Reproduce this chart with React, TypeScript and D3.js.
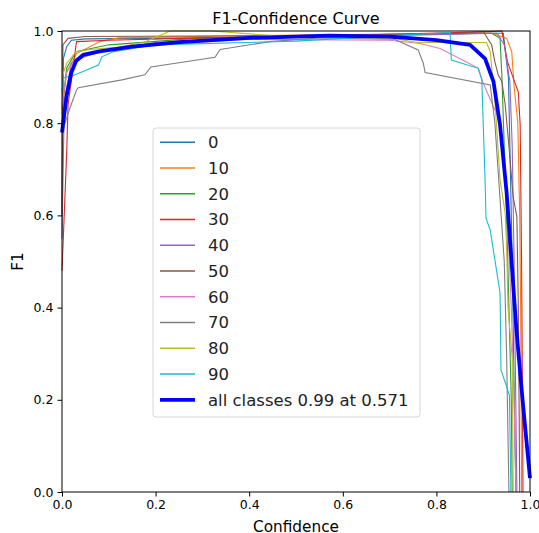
import React, { useEffect, useRef } from "react";
import * as d3 from "d3";

type Pt = [number, number];

const classNames = ["0", "10", "20", "30", "40", "50", "60", "70", "80", "90"];
const classColors = ["#1f77b4", "#ff7f0e", "#2ca02c", "#d62728", "#9467bd", "#8c564b", "#e377c2", "#7f7f7f", "#bcbd22", "#17becf"];

const class0: Pt[] = [[0, 0.6], [0.003, 0.94], [0.01, 0.966], [0.02, 0.98], [0.05, 0.983], [0.3, 0.985], [0.6, 0.99], [0.9, 0.995], [0.943, 0.995], [0.948, 0.95], [0.954, 0.898], [0.958, 0.7], [0.962, 0.5], [0.965, 0.3], [0.968, 0.1], [0.97, 0]];
const class10: Pt[] = [[0, 0.82], [0.01, 0.912], [0.031, 0.951], [0.081, 0.977], [0.12, 0.985], [0.4, 0.99], [0.88, 0.995], [0.92, 0.995], [0.95, 0.984], [0.961, 0.955], [0.966, 0.88], [0.974, 0.8], [0.978, 0.6], [0.98, 0.4], [0.981, 0.2], [0.982, 0]];
const class20: Pt[] = [[0, 0.83], [0.01, 0.92], [0.03, 0.955], [0.1, 0.97], [0.3, 0.985], [0.6, 0.99], [0.918, 0.995], [0.936, 0.984], [0.94, 0.9], [0.945, 0.75], [0.95, 0.6], [0.955, 0.4], [0.96, 0.2], [0.962, 0]];
const class30: Pt[] = [[0, 0.48], [0.01, 0.735], [0.013, 0.84], [0.031, 0.977], [0.1, 0.98], [0.3, 0.985], [0.6, 0.99], [0.9, 0.998], [0.94, 1.0], [0.952, 0.933], [0.968, 0.887], [0.975, 0.868], [0.979, 0.796], [0.982, 0.5], [0.984, 0.2], [0.985, 0]];
const class40: Pt[] = [[0, 0.55], [0.005, 0.85], [0.02, 0.93], [0.05, 0.945], [0.1, 0.96], [0.2, 0.975], [0.4, 0.985], [0.7, 0.99], [0.93, 0.995], [0.945, 0.97], [0.957, 0.89], [0.962, 0.75], [0.966, 0.5], [0.969, 0.25], [0.972, 0]];
const class50: Pt[] = [[0, 0.6], [0.002, 0.97], [0.013, 0.984], [0.05, 0.988], [0.5, 0.99], [0.85, 0.995], [0.9, 0.999], [0.918, 0.97], [0.925, 0.933], [0.932, 0.905], [0.94, 0.89], [0.947, 0.84], [0.955, 0.75], [0.964, 0.64], [0.972, 0.597], [0.975, 0.4], [0.977, 0.15], [0.978, 0]];
const class60: Pt[] = [[0, 0.84], [0.01, 0.91], [0.03, 0.94], [0.08, 0.955], [0.2, 0.97], [0.4, 0.982], [0.7, 0.98], [0.765, 0.973], [0.808, 0.962], [0.89, 0.919], [0.9, 0.887], [0.911, 0.861], [0.936, 0.803], [0.95, 0.65], [0.96, 0.4], [0.966, 0.2], [0.97, 0]];
const class70: Pt[] = [[0, 0.78], [0.003, 0.79], [0.017, 0.833], [0.031, 0.872], [0.035, 0.877], [0.128, 0.894], [0.177, 0.905], [0.19, 0.922], [0.327, 0.943], [0.338, 0.96], [0.444, 0.977], [0.55, 0.985], [0.71, 0.982], [0.761, 0.959], [0.772, 0.93], [0.776, 0.91], [0.915, 0.883], [0.925, 0.8], [0.935, 0.65], [0.945, 0.5], [0.95, 0.3], [0.955, 0]];
const class80: Pt[] = [[0, 0.9], [0.01, 0.93], [0.03, 0.955], [0.06, 0.96], [0.12, 0.965], [0.174, 0.975], [0.231, 1.0], [0.32, 1.0], [0.45, 0.99], [0.71, 0.984], [0.758, 0.975], [0.907, 0.975], [0.915, 0.955], [0.925, 0.85], [0.936, 0.677], [0.947, 0.605], [0.95, 0.532], [0.953, 0.4], [0.962, 0.29], [0.964, 0.02], [0.964, 0]];
const class90: Pt[] = [[0, 0.87], [0.003, 0.898], [0.028, 0.905], [0.078, 0.926], [0.085, 0.944], [0.109, 0.955], [0.2, 0.97], [0.5, 0.978], [0.7, 0.99], [0.8, 0.995], [0.829, 0.997], [0.832, 0.937], [0.889, 0.919], [0.897, 0.894], [0.904, 0.677], [0.906, 0.594], [0.915, 0.568], [0.936, 0.432], [0.938, 0.265], [0.956, 0.21], [0.959, 0.02], [0.959, 0]];
const allClasses: Pt[] = [[0, 0.78], [0.01, 0.86], [0.02, 0.91], [0.03, 0.935], [0.045, 0.948], [0.08, 0.956], [0.15, 0.966], [0.25, 0.976], [0.4, 0.985], [0.571, 0.99], [0.7, 0.988], [0.8, 0.98], [0.872, 0.97], [0.904, 0.94], [0.922, 0.89], [0.936, 0.796], [0.95, 0.65], [0.962, 0.48], [0.971, 0.351], [0.985, 0.19], [1.0, 0.03]];

const classSeries = [class0, class10, class20, class30, class40, class50, class60, class70, class80, class90];
const allLabel = "all classes 0.99 at 0.571";
const ticks = [0, 0.2, 0.4, 0.6, 0.8, 1.0];

const W = 539;
const H = 533;
const margin = { left: 62, right: 9, top: 31, bottom: 41 };
const font = "DejaVu Sans, sans-serif";

const App = () => {
  const svgRef = useRef<SVGSVGElement>(null);

  useEffect(() => {
    const svg = d3.select(svgRef.current);
    svg.selectAll("*").remove();

    const x = d3.scaleLinear().domain([0, 1]).range([margin.left, W - margin.right]);
    const y = d3.scaleLinear().domain([0, 1]).range([H - margin.bottom, margin.top]);
    const line = d3.line<Pt>().x((d) => x(d[0])).y((d) => y(d[1]));

    classSeries.forEach((s, i) => {
      svg.append("path").attr("d", line(s)).attr("fill", "none")
        .attr("stroke", classColors[i]).attr("stroke-width", 1.1);
    });
    svg.append("path").attr("d", line(allClasses)).attr("fill", "none")
      .attr("stroke", "#0000ff").attr("stroke-width", 3.8).attr("stroke-linejoin", "round");

    // axes
    const xAxis = svg.append("g").attr("transform", `translate(0,${y(0)})`)
      .call(d3.axisBottom(x).tickValues(ticks).tickFormat(d3.format(".1f")).tickSize(4.5).tickPadding(4));
    const yAxis = svg.append("g").attr("transform", `translate(${x(0)},0)`)
      .call(d3.axisLeft(y).tickValues(ticks).tickFormat(d3.format(".1f")).tickSize(4.5).tickPadding(4));
    [xAxis, yAxis].forEach((g) => {
      g.select(".domain").remove();
      g.selectAll("line").attr("stroke", "#000").attr("stroke-width", 1);
      g.selectAll("text").attr("font-family", font).attr("font-size", 12.5).attr("fill", "#000");
    });

    svg.append("rect").attr("x", x(0)).attr("y", y(1)).attr("width", x(1) - x(0)).attr("height", y(0) - y(1))
      .attr("fill", "none").attr("stroke", "#000").attr("stroke-width", 1);

    // legend
    const lg = svg.append("g");
    lg.append("rect").attr("x", 153).attr("y", 128).attr("width", 267).attr("height", 289)
      .attr("rx", 3).attr("fill", "#fff").attr("fill-opacity", 0.8).attr("stroke", "#d6d6d6");
    const names = [...classNames, allLabel];
    names.forEach((n, i) => {
      const cy = 142.3 + i * 25.75;
      const isAll = i === names.length - 1;
      lg.append("line").attr("x1", 160).attr("x2", 195).attr("y1", cy).attr("y2", cy)
        .attr("stroke", isAll ? "#0000ff" : classColors[i]).attr("stroke-width", isAll ? 3.8 : 1.5);
      lg.append("text").attr("x", 208).attr("y", cy).attr("dy", "0.36em")
        .attr("font-family", font).attr("font-size", 16.5).attr("fill", "#222").text(n);
    });

    // titles
    svg.append("text").attr("x", (x(0) + x(1)) / 2).attr("y", 24).attr("text-anchor", "middle")
      .attr("font-family", font).attr("font-size", 16).text("F1-Confidence Curve");
    svg.append("text").attr("x", (x(0) + x(1)) / 2).attr("y", 532).attr("text-anchor", "middle")
      .attr("font-family", font).attr("font-size", 15.3).text("Confidence");
    svg.append("text").attr("transform", `translate(23,${(y(0) + y(1)) / 2}) rotate(-90)`)
      .attr("text-anchor", "middle").attr("font-family", font).attr("font-size", 15.3).text("F1");
  }, []);

  return (
    <svg ref={svgRef} width={W} height={H} style={{ position: "absolute", left: 0, top: 0, background: "#fff" }} />
  );
};

export default App;
